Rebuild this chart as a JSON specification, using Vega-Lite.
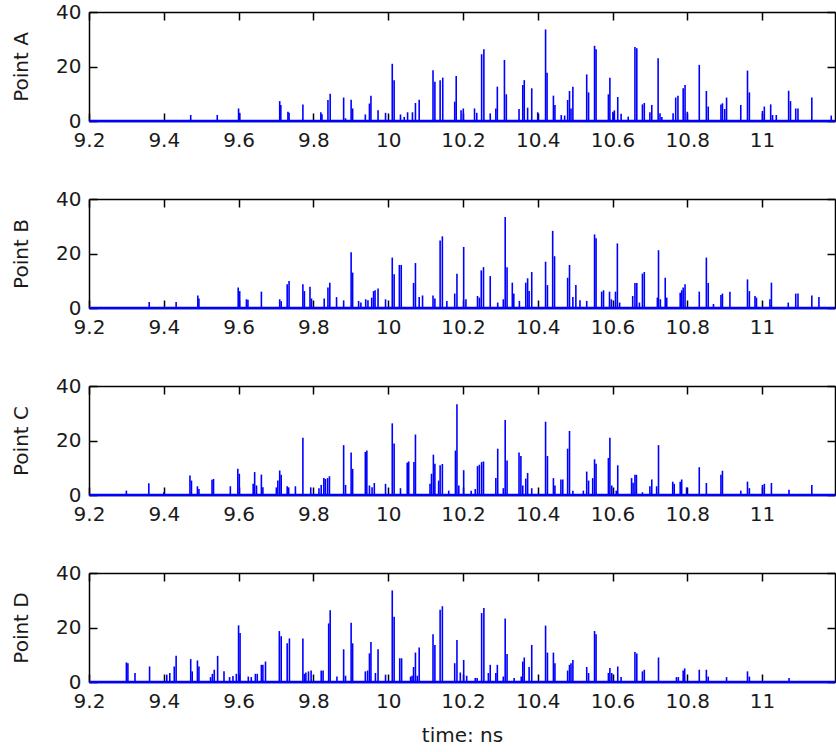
{
"$schema":"https://vega.github.io/schema/vega-lite/v6.json",
"padding":{"left":11,"top":2,"right":0,"bottom":0},
"bounds":"flush",
"spacing":78,
"config":{"font":"DejaVu Sans","view":{"stroke":null},
"axis":{"grid":false,"domainColor":"#000000","domainWidth":1.5,"tickColor":"#000000","tickWidth":1.5,"tickSize":-8,"labelFontSize":20,"labelColor":"#1a1a1a","labelFont":"DejaVu Sans","titleFont":"DejaVu Sans","titleFontSize":20,"titleFontWeight":"normal","titleColor":"#1a1a1a","labelFlush":false,"labelOverlap":false}},
"datasets":{
"base":[{"t0":9.2,"t1":11.195,"v":0}],
"A":[{"t":9.472,"v":2.2},{"t":9.543,"v":2.2},{"t":9.6,"v":4.6},{"t":9.603,"v":3.0},{"t":9.71,"v":7.3},{"t":9.713,"v":5.9},{"t":9.732,"v":3.4},{"t":9.735,"v":3.0},{"t":9.772,"v":6.1},{"t":9.82,"v":3.2},{"t":9.823,"v":2.5},{"t":9.839,"v":7.7},{"t":9.845,"v":10.0},{"t":9.881,"v":8.6},{"t":9.886,"v":1.0},{"t":9.901,"v":7.8},{"t":9.905,"v":4.6},{"t":9.939,"v":2.4},{"t":9.95,"v":6.4},{"t":9.954,"v":9.3},{"t":9.973,"v":3.9},{"t":9.993,"v":3.0},{"t":10.011,"v":21.0},{"t":10.016,"v":15.0},{"t":10.033,"v":2.4},{"t":10.043,"v":1.5},{"t":10.052,"v":3.2},{"t":10.065,"v":3.2},{"t":10.073,"v":6.6},{"t":10.083,"v":7.8},{"t":10.12,"v":18.6},{"t":10.125,"v":14.4},{"t":10.139,"v":15.0},{"t":10.146,"v":15.9},{"t":10.178,"v":7.1},{"t":10.182,"v":16.5},{"t":10.195,"v":3.9},{"t":10.201,"v":4.6},{"t":10.231,"v":4.6},{"t":10.237,"v":3.0},{"t":10.25,"v":24.5},{"t":10.256,"v":26.3},{"t":10.273,"v":2.8},{"t":10.288,"v":4.6},{"t":10.292,"v":12.6},{"t":10.311,"v":22.4},{"t":10.316,"v":9.8},{"t":10.35,"v":4.4},{"t":10.36,"v":13.2},{"t":10.364,"v":15.0},{"t":10.373,"v":4.9},{"t":10.384,"v":12.0},{"t":10.4,"v":3.2},{"t":10.421,"v":33.6},{"t":10.425,"v":17.7},{"t":10.442,"v":9.3},{"t":10.446,"v":5.9},{"t":10.463,"v":2.2},{"t":10.472,"v":2.0},{"t":10.48,"v":7.7},{"t":10.485,"v":11.0},{"t":10.489,"v":4.6},{"t":10.494,"v":12.6},{"t":10.531,"v":17.1},{"t":10.536,"v":10.5},{"t":10.552,"v":27.6},{"t":10.556,"v":26.3},{"t":10.589,"v":9.8},{"t":10.593,"v":15.9},{"t":10.601,"v":3.4},{"t":10.605,"v":3.9},{"t":10.614,"v":8.8},{"t":10.623,"v":2.7},{"t":10.642,"v":1.6},{"t":10.66,"v":27.2},{"t":10.665,"v":26.7},{"t":10.68,"v":6.1},{"t":10.685,"v":6.6},{"t":10.7,"v":3.2},{"t":10.705,"v":5.9},{"t":10.722,"v":23.0},{"t":10.727,"v":2.8},{"t":10.732,"v":1.5},{"t":10.762,"v":2.8},{"t":10.769,"v":8.6},{"t":10.775,"v":9.3},{"t":10.789,"v":12.0},{"t":10.794,"v":13.2},{"t":10.8,"v":3.4},{"t":10.832,"v":20.6},{"t":10.851,"v":11.0},{"t":10.856,"v":5.3},{"t":10.89,"v":6.1},{"t":10.894,"v":6.5},{"t":10.9,"v":4.4},{"t":10.905,"v":8.6},{"t":10.943,"v":5.9},{"t":10.961,"v":18.5},{"t":10.966,"v":10.5},{"t":11.001,"v":3.7},{"t":11.006,"v":5.3},{"t":11.023,"v":6.1},{"t":11.028,"v":2.2},{"t":11.038,"v":2.2},{"t":11.071,"v":11.1},{"t":11.076,"v":7.3},{"t":11.09,"v":4.6},{"t":11.096,"v":4.6},{"t":11.133,"v":8.6},{"t":11.185,"v":2.0}],
"B":[{"t":9.361,"v":2.2},{"t":9.433,"v":2.2},{"t":9.491,"v":4.6},{"t":9.494,"v":3.5},{"t":9.599,"v":7.5},{"t":9.603,"v":6.2},{"t":9.621,"v":3.2},{"t":9.625,"v":3.0},{"t":9.661,"v":6.0},{"t":9.71,"v":3.2},{"t":9.714,"v":2.5},{"t":9.73,"v":8.7},{"t":9.735,"v":9.9},{"t":9.772,"v":8.7},{"t":9.776,"v":6.2},{"t":9.791,"v":7.8},{"t":9.795,"v":3.5},{"t":9.829,"v":3.5},{"t":9.839,"v":7.5},{"t":9.844,"v":9.3},{"t":9.862,"v":4.0},{"t":9.881,"v":2.8},{"t":9.901,"v":20.5},{"t":9.905,"v":13.0},{"t":9.921,"v":2.6},{"t":9.927,"v":2.0},{"t":9.94,"v":3.2},{"t":9.946,"v":2.8},{"t":9.956,"v":3.8},{"t":9.961,"v":6.2},{"t":9.965,"v":6.5},{"t":9.973,"v":7.2},{"t":9.993,"v":3.2},{"t":10.011,"v":18.5},{"t":10.016,"v":12.4},{"t":10.03,"v":15.8},{"t":10.035,"v":15.8},{"t":10.068,"v":9.2},{"t":10.073,"v":16.5},{"t":10.083,"v":4.0},{"t":10.092,"v":4.6},{"t":10.12,"v":4.6},{"t":10.125,"v":3.5},{"t":10.139,"v":24.8},{"t":10.145,"v":26.3},{"t":10.157,"v":2.6},{"t":10.178,"v":5.3},{"t":10.184,"v":12.6},{"t":10.202,"v":22.4},{"t":10.208,"v":3.2},{"t":10.239,"v":4.4},{"t":10.244,"v":3.8},{"t":10.249,"v":13.8},{"t":10.255,"v":15.0},{"t":10.273,"v":11.7},{"t":10.293,"v":2.0},{"t":10.308,"v":3.2},{"t":10.313,"v":33.4},{"t":10.318,"v":15.0},{"t":10.332,"v":9.3},{"t":10.336,"v":5.3},{"t":10.351,"v":2.6},{"t":10.368,"v":9.3},{"t":10.373,"v":10.9},{"t":10.377,"v":6.2},{"t":10.384,"v":13.2},{"t":10.421,"v":17.0},{"t":10.426,"v":8.4},{"t":10.44,"v":28.3},{"t":10.445,"v":19.0},{"t":10.48,"v":11.1},{"t":10.485,"v":15.8},{"t":10.494,"v":4.0},{"t":10.502,"v":8.4},{"t":10.513,"v":2.8},{"t":10.531,"v":2.6},{"t":10.552,"v":27.0},{"t":10.556,"v":25.6},{"t":10.571,"v":6.0},{"t":10.576,"v":6.5},{"t":10.592,"v":6.0},{"t":10.597,"v":3.2},{"t":10.608,"v":6.0},{"t":10.613,"v":23.7},{"t":10.619,"v":2.0},{"t":10.654,"v":4.4},{"t":10.66,"v":9.2},{"t":10.665,"v":9.2},{"t":10.672,"v":2.0},{"t":10.68,"v":12.6},{"t":10.685,"v":13.2},{"t":10.72,"v":3.8},{"t":10.723,"v":21.2},{"t":10.728,"v":3.2},{"t":10.741,"v":11.1},{"t":10.745,"v":3.8},{"t":10.781,"v":5.6},{"t":10.785,"v":6.5},{"t":10.789,"v":7.5},{"t":10.794,"v":8.7},{"t":10.832,"v":6.0},{"t":10.851,"v":18.5},{"t":10.856,"v":9.2},{"t":10.87,"v":1.5},{"t":10.89,"v":4.8},{"t":10.894,"v":5.3},{"t":10.914,"v":6.0},{"t":10.961,"v":10.5},{"t":10.966,"v":6.2},{"t":10.981,"v":4.4},{"t":10.985,"v":3.8},{"t":11.021,"v":3.2},{"t":11.025,"v":9.3},{"t":11.07,"v":2.0},{"t":11.09,"v":5.3},{"t":11.096,"v":5.3},{"t":11.133,"v":4.6},{"t":11.152,"v":4.0}],
"C":[{"t":9.3,"v":1.6},{"t":9.36,"v":4.3},{"t":9.4,"v":1.0},{"t":9.47,"v":7.2},{"t":9.474,"v":5.3},{"t":9.49,"v":3.2},{"t":9.494,"v":2.2},{"t":9.529,"v":5.6},{"t":9.533,"v":5.9},{"t":9.578,"v":3.2},{"t":9.598,"v":9.6},{"t":9.602,"v":7.8},{"t":9.639,"v":4.1},{"t":9.643,"v":8.4},{"t":9.648,"v":3.5},{"t":9.661,"v":7.5},{"t":9.665,"v":2.8},{"t":9.701,"v":2.8},{"t":9.705,"v":5.3},{"t":9.71,"v":9.0},{"t":9.714,"v":7.4},{"t":9.73,"v":3.2},{"t":9.734,"v":2.8},{"t":9.752,"v":3.2},{"t":9.772,"v":21.0},{"t":9.793,"v":2.8},{"t":9.815,"v":2.5},{"t":9.821,"v":3.7},{"t":9.828,"v":6.2},{"t":9.832,"v":5.9},{"t":9.838,"v":6.2},{"t":9.843,"v":6.9},{"t":9.881,"v":18.3},{"t":9.886,"v":3.7},{"t":9.901,"v":15.6},{"t":9.905,"v":9.6},{"t":9.939,"v":15.8},{"t":9.943,"v":16.3},{"t":9.95,"v":3.5},{"t":9.957,"v":2.8},{"t":9.963,"v":4.4},{"t":9.993,"v":4.1},{"t":10.011,"v":26.3},{"t":10.016,"v":18.9},{"t":10.033,"v":2.5},{"t":10.051,"v":11.9},{"t":10.055,"v":12.3},{"t":10.069,"v":12.1},{"t":10.073,"v":22.2},{"t":10.112,"v":4.1},{"t":10.116,"v":7.8},{"t":10.121,"v":14.8},{"t":10.125,"v":11.5},{"t":10.135,"v":5.3},{"t":10.139,"v":10.9},{"t":10.145,"v":11.4},{"t":10.162,"v":1.6},{"t":10.18,"v":16.3},{"t":10.184,"v":33.3},{"t":10.189,"v":3.5},{"t":10.202,"v":9.1},{"t":10.222,"v":1.6},{"t":10.233,"v":2.2},{"t":10.239,"v":10.6},{"t":10.244,"v":11.1},{"t":10.25,"v":12.1},{"t":10.255,"v":12.3},{"t":10.288,"v":6.2},{"t":10.293,"v":17.0},{"t":10.308,"v":2.5},{"t":10.313,"v":27.5},{"t":10.318,"v":12.7},{"t":10.35,"v":15.6},{"t":10.355,"v":14.3},{"t":10.36,"v":3.5},{"t":10.368,"v":6.0},{"t":10.373,"v":8.1},{"t":10.384,"v":2.5},{"t":10.421,"v":26.9},{"t":10.426,"v":14.3},{"t":10.442,"v":6.2},{"t":10.446,"v":3.5},{"t":10.462,"v":5.7},{"t":10.467,"v":5.7},{"t":10.48,"v":17.0},{"t":10.485,"v":23.5},{"t":10.494,"v":1.6},{"t":10.522,"v":1.6},{"t":10.531,"v":8.6},{"t":10.536,"v":5.3},{"t":10.547,"v":6.2},{"t":10.552,"v":13.1},{"t":10.556,"v":11.5},{"t":10.589,"v":13.6},{"t":10.593,"v":21.0},{"t":10.598,"v":3.5},{"t":10.61,"v":1.6},{"t":10.614,"v":10.9},{"t":10.651,"v":6.2},{"t":10.655,"v":4.5},{"t":10.66,"v":7.4},{"t":10.664,"v":7.4},{"t":10.68,"v":1.0},{"t":10.7,"v":3.2},{"t":10.705,"v":5.7},{"t":10.718,"v":3.2},{"t":10.723,"v":18.3},{"t":10.761,"v":4.9},{"t":10.765,"v":4.1},{"t":10.781,"v":4.9},{"t":10.785,"v":5.7},{"t":10.798,"v":2.8},{"t":10.832,"v":10.2},{"t":10.851,"v":4.4},{"t":10.89,"v":7.4},{"t":10.894,"v":8.9},{"t":10.943,"v":1.6},{"t":10.961,"v":4.9},{"t":10.966,"v":2.5},{"t":11.001,"v":3.7},{"t":11.006,"v":4.1},{"t":11.025,"v":4.4},{"t":11.072,"v":1.9},{"t":11.133,"v":3.7}],
"D":[{"t":9.3,"v":7.2},{"t":9.304,"v":6.9},{"t":9.323,"v":3.3},{"t":9.362,"v":5.7},{"t":9.408,"v":2.7},{"t":9.416,"v":3.3},{"t":9.428,"v":5.7},{"t":9.433,"v":9.6},{"t":9.472,"v":8.4},{"t":9.476,"v":3.9},{"t":9.49,"v":7.9},{"t":9.494,"v":5.7},{"t":9.525,"v":1.8},{"t":9.53,"v":3.0},{"t":9.535,"v":4.5},{"t":9.544,"v":9.6},{"t":9.561,"v":3.9},{"t":9.576,"v":1.8},{"t":9.585,"v":2.2},{"t":9.594,"v":3.0},{"t":9.6,"v":20.8},{"t":9.604,"v":18.0},{"t":9.626,"v":2.0},{"t":9.634,"v":1.8},{"t":9.645,"v":3.0},{"t":9.65,"v":3.0},{"t":9.661,"v":6.3},{"t":9.665,"v":6.3},{"t":9.672,"v":7.5},{"t":9.709,"v":18.7},{"t":9.714,"v":16.8},{"t":9.73,"v":14.2},{"t":9.736,"v":16.0},{"t":9.772,"v":16.0},{"t":9.776,"v":3.0},{"t":9.78,"v":3.5},{"t":9.787,"v":3.9},{"t":9.794,"v":4.2},{"t":9.821,"v":4.2},{"t":9.826,"v":4.2},{"t":9.841,"v":21.5},{"t":9.845,"v":26.3},{"t":9.863,"v":2.0},{"t":9.881,"v":12.0},{"t":9.886,"v":2.3},{"t":9.901,"v":21.7},{"t":9.905,"v":14.2},{"t":9.939,"v":3.9},{"t":9.945,"v":4.2},{"t":9.95,"v":10.5},{"t":9.954,"v":14.7},{"t":9.966,"v":3.3},{"t":9.973,"v":12.0},{"t":9.993,"v":2.7},{"t":10.011,"v":33.6},{"t":10.016,"v":23.9},{"t":10.031,"v":8.7},{"t":10.036,"v":8.7},{"t":10.06,"v":2.0},{"t":10.064,"v":2.3},{"t":10.068,"v":5.5},{"t":10.073,"v":10.8},{"t":10.078,"v":2.3},{"t":10.083,"v":12.7},{"t":10.12,"v":17.5},{"t":10.125,"v":13.6},{"t":10.139,"v":26.5},{"t":10.145,"v":27.8},{"t":10.178,"v":6.9},{"t":10.184,"v":15.4},{"t":10.193,"v":3.5},{"t":10.202,"v":8.1},{"t":10.21,"v":2.3},{"t":10.233,"v":1.5},{"t":10.238,"v":1.5},{"t":10.25,"v":25.3},{"t":10.256,"v":27.2},{"t":10.268,"v":3.3},{"t":10.273,"v":6.3},{"t":10.288,"v":3.3},{"t":10.292,"v":6.3},{"t":10.308,"v":2.0},{"t":10.313,"v":23.3},{"t":10.318,"v":10.3},{"t":10.337,"v":1.5},{"t":10.356,"v":2.0},{"t":10.36,"v":7.5},{"t":10.364,"v":9.0},{"t":10.377,"v":5.5},{"t":10.384,"v":13.6},{"t":10.421,"v":20.7},{"t":10.426,"v":10.8},{"t":10.442,"v":10.8},{"t":10.446,"v":6.9},{"t":10.48,"v":4.2},{"t":10.485,"v":6.3},{"t":10.489,"v":6.9},{"t":10.494,"v":8.1},{"t":10.531,"v":5.5},{"t":10.536,"v":3.3},{"t":10.552,"v":18.7},{"t":10.556,"v":17.5},{"t":10.589,"v":3.3},{"t":10.593,"v":5.1},{"t":10.598,"v":3.3},{"t":10.614,"v":5.7},{"t":10.623,"v":1.8},{"t":10.66,"v":11.0},{"t":10.665,"v":10.5},{"t":10.68,"v":3.9},{"t":10.685,"v":4.5},{"t":10.723,"v":9.0},{"t":10.771,"v":1.8},{"t":10.776,"v":1.8},{"t":10.789,"v":4.2},{"t":10.793,"v":5.0},{"t":10.832,"v":4.5},{"t":10.851,"v":4.5},{"t":10.856,"v":2.0},{"t":10.905,"v":1.8},{"t":10.961,"v":3.9},{"t":10.966,"v":2.0},{"t":11.072,"v":1.5}]
},
"vconcat":[
{"width":746,"height":109,"layer":[
{"data":{"name":"A"},"mark":{"type":"rule","color":"#0000ff","strokeWidth":1.6},"encoding":{
"x":{"field":"t","type":"quantitative","scale":{"domain":[9.2,11.195],"nice":false,"zero":false},"axis":{"orient":"bottom","values":[9.2,9.4,9.6,9.8,10,10.2,10.4,10.6,10.8,11],"format":"~g","title":null,"labelPadding":17}},
"y":{"field":"v","type":"quantitative","scale":{"domain":[0,40],"nice":false},"axis":{"orient":"left","values":[0,20,40],"title":"Point A","labelPadding":16,"titlePadding":24}},
"y2":{"datum":0}}},
{"data":{"name":"base"},"mark":{"type":"rule","color":"#0000ff","strokeWidth":2.5},"encoding":{
"x":{"field":"t0","type":"quantitative","axis":{"orient":"top","values":[9.2,9.4,9.6,9.8,10,10.2,10.4,10.6,10.8,11],"labels":false,"title":null}},
"x2":{"field":"t1"},
"y":{"field":"v","type":"quantitative","axis":{"orient":"right","values":[0,20,40],"labels":false,"title":null}}}}
],"resolve":{"axis":{"x":"independent","y":"independent"}}},
{"width":746,"height":109,"layer":[
{"data":{"name":"B"},"mark":{"type":"rule","color":"#0000ff","strokeWidth":1.6},"encoding":{
"x":{"field":"t","type":"quantitative","scale":{"domain":[9.2,11.195],"nice":false,"zero":false},"axis":{"orient":"bottom","values":[9.2,9.4,9.6,9.8,10,10.2,10.4,10.6,10.8,11],"format":"~g","title":null,"labelPadding":17}},
"y":{"field":"v","type":"quantitative","scale":{"domain":[0,40],"nice":false},"axis":{"orient":"left","values":[0,20,40],"title":"Point B","labelPadding":16,"titlePadding":24}},
"y2":{"datum":0}}},
{"data":{"name":"base"},"mark":{"type":"rule","color":"#0000ff","strokeWidth":2.5},"encoding":{
"x":{"field":"t0","type":"quantitative","axis":{"orient":"top","values":[9.2,9.4,9.6,9.8,10,10.2,10.4,10.6,10.8,11],"labels":false,"title":null}},
"x2":{"field":"t1"},
"y":{"field":"v","type":"quantitative","axis":{"orient":"right","values":[0,20,40],"labels":false,"title":null}}}}
],"resolve":{"axis":{"x":"independent","y":"independent"}}},
{"width":746,"height":109,"layer":[
{"data":{"name":"C"},"mark":{"type":"rule","color":"#0000ff","strokeWidth":1.6},"encoding":{
"x":{"field":"t","type":"quantitative","scale":{"domain":[9.2,11.195],"nice":false,"zero":false},"axis":{"orient":"bottom","values":[9.2,9.4,9.6,9.8,10,10.2,10.4,10.6,10.8,11],"format":"~g","title":null,"labelPadding":17}},
"y":{"field":"v","type":"quantitative","scale":{"domain":[0,40],"nice":false},"axis":{"orient":"left","values":[0,20,40],"title":"Point C","labelPadding":16,"titlePadding":24}},
"y2":{"datum":0}}},
{"data":{"name":"base"},"mark":{"type":"rule","color":"#0000ff","strokeWidth":2.5},"encoding":{
"x":{"field":"t0","type":"quantitative","axis":{"orient":"top","values":[9.2,9.4,9.6,9.8,10,10.2,10.4,10.6,10.8,11],"labels":false,"title":null}},
"x2":{"field":"t1"},
"y":{"field":"v","type":"quantitative","axis":{"orient":"right","values":[0,20,40],"labels":false,"title":null}}}}
],"resolve":{"axis":{"x":"independent","y":"independent"}}},
{"width":746,"height":109,"layer":[
{"data":{"name":"D"},"mark":{"type":"rule","color":"#0000ff","strokeWidth":1.6},"encoding":{
"x":{"field":"t","type":"quantitative","scale":{"domain":[9.2,11.195],"nice":false,"zero":false},"axis":{"orient":"bottom","values":[9.2,9.4,9.6,9.8,10,10.2,10.4,10.6,10.8,11],"format":"~g","title":"time: ns","labelPadding":17,"titlePadding":14}},
"y":{"field":"v","type":"quantitative","scale":{"domain":[0,40],"nice":false},"axis":{"orient":"left","values":[0,20,40],"title":"Point D","labelPadding":16,"titlePadding":24}},
"y2":{"datum":0}}},
{"data":{"name":"base"},"mark":{"type":"rule","color":"#0000ff","strokeWidth":2.5},"encoding":{
"x":{"field":"t0","type":"quantitative","axis":{"orient":"top","values":[9.2,9.4,9.6,9.8,10,10.2,10.4,10.6,10.8,11],"labels":false,"title":null}},
"x2":{"field":"t1"},
"y":{"field":"v","type":"quantitative","axis":{"orient":"right","values":[0,20,40],"labels":false,"title":null}}}}
],"resolve":{"axis":{"x":"independent","y":"independent"}}}
]
}
